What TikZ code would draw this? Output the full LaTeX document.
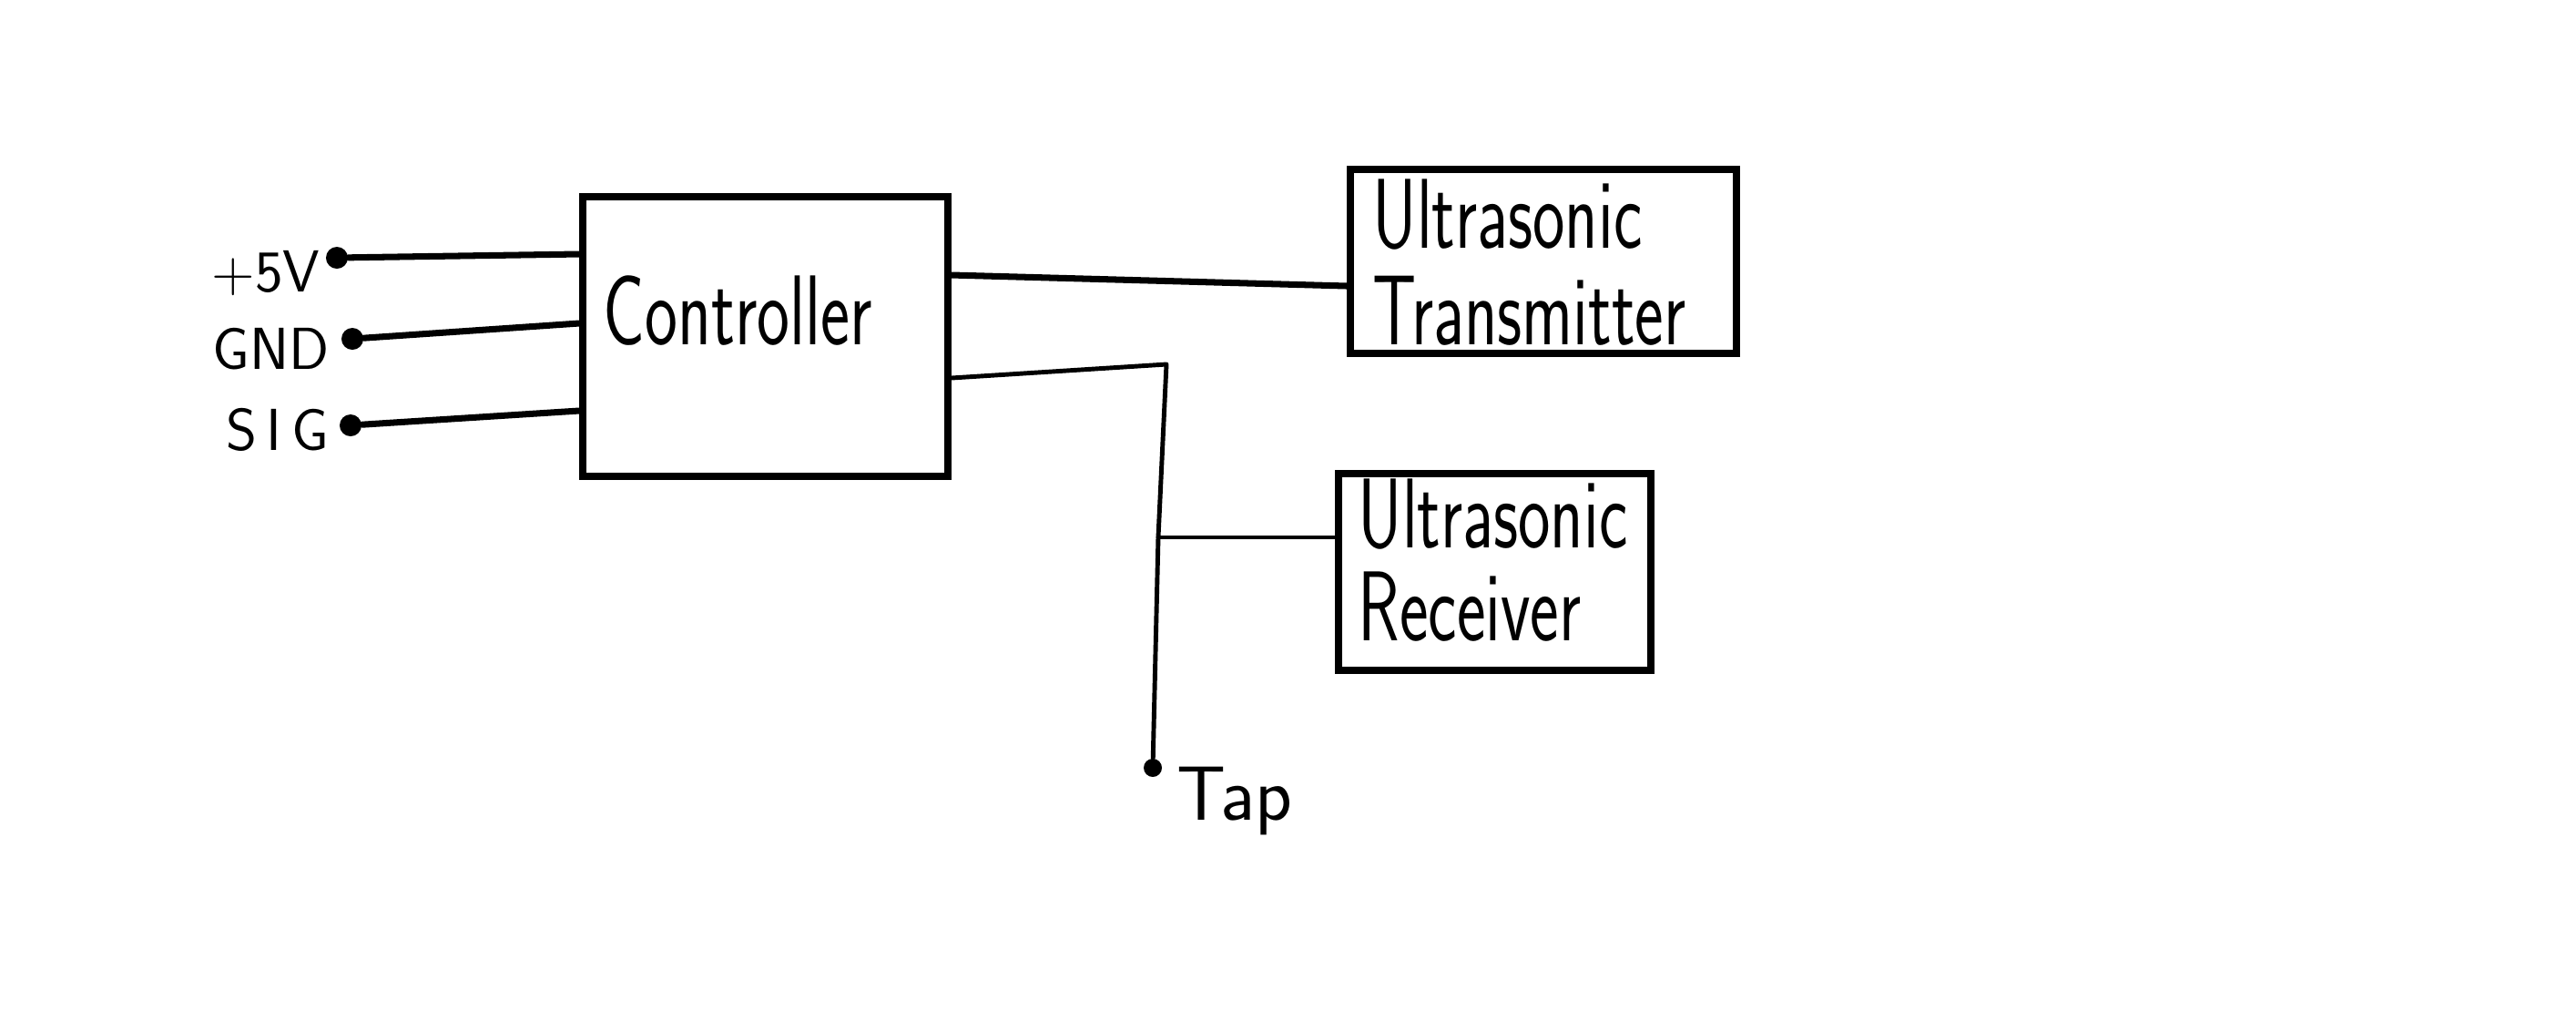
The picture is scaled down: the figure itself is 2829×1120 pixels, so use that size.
\documentclass[tikz,border=0pt]{standalone}
\usepackage{graphicx}
\begin{document}
\begin{tikzpicture}[x=0.01cm,y=-0.01cm,
  wire/.style={line width=2pt, line cap=round, line join=round},
  thinwire/.style={line width=1.4pt, line cap=round, line join=round},
  box/.style={draw, line width=2.1pt, rectangle, inner sep=0pt},
  term/.style={circle, fill, inner sep=0pt, minimum size=0.24cm},
  pin/.style={font=\sffamily\fontsize{18.5}{20}\selectfont, anchor=east, inner sep=0pt},
  big/.style={font=\sffamily\fontsize{31}{29}\selectfont, inner sep=0pt, anchor=west}]
\useasboundingbox (0,0) rectangle (2829,1120);
% boxes
\node[box, minimum width=4.01cm, minimum height=3.07cm] (ctrl) at (840.5,369.5) {};
\node[big] (ctrlT) at (662,341) {\scalebox{0.7}[1]{Controller}};
\node[box, minimum width=4.24cm, minimum height=2.02cm] (tx) at (1695,287) {};
\node[big] (txT) at (1507,303) {\scalebox{0.69}[1]{\begin{tabular}{@{}l@{}}Ultrasonic\\Transmitter\end{tabular}}};
\node[box, minimum width=3.43cm, minimum height=2.16cm] (rx) at (1641.5,628) {};
\node[big] (rxT) at (1491,628) {\fontsize{31}{25}\selectfont\scalebox{0.69}[1]{\begin{tabular}{@{}l@{}}Ultrasonic\\Receiver\end{tabular}}};
% terminals
\node[term] (p5) at (370,283) {};
\node[term] (gnd) at (387,372) {};
\node[term] (sig) at (385,467) {};
\node[term, minimum size=0.2cm] (tap) at (1266,843) {};
\node[pin] (p5L) at (352,300) {+5V};
\node[pin] (gndL) at (362,383) {GND};
\node[pin] (sigL) at (362,472) {S\,I\,G};
\node[font=\sffamily\fontsize{24}{28}\selectfont, inner sep=0pt, anchor=west] (tapL) at (1292,880) {Tap};
% helper coordinates
\coordinate (c5) at (640,279);
\coordinate (cg) at (640,355);
\coordinate (cs) at (640,451);
\coordinate (cx) at (1041,302);
\coordinate (txin) at (1483,314);
\coordinate (cout) at (1041,415);
\coordinate (bend) at (1281,400);
\coordinate (junc) at (1272,590);
% wires
\draw[wire] (p5) -- (ctrl.west |- c5);
\draw[wire] (gnd) -- (ctrl.west |- cg);
\draw[wire] (sig) -- (ctrl.west |- cs);
\draw[wire] (ctrl.east |- cx) -- (tx.west |- txin);
\draw[thinwire] (ctrl.east |- cout) -- (bend) -- (junc) -- (tap);
\draw[thinwire] (junc) -- (rx.west |- junc);
\end{tikzpicture}
\end{document}
